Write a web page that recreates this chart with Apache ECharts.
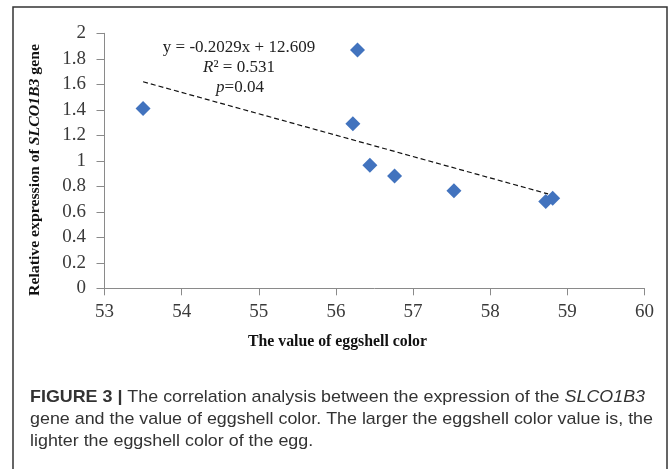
<!DOCTYPE html>
<html><head><meta charset="utf-8">
<script src="https://cdn.jsdelivr.net/npm/echarts@6/dist/echarts.min.js"></script>
<style>html,body{margin:0;padding:0;background:#fff}#c{width:672px;height:469px}</style>
</head><body><div id="c"></div>
<script>
// ---- data ----
const eggshellColor = [53.5, 56.28, 56.22, 56.44, 56.76, 57.53, 58.72, 58.81];
const relExpression = [1.41, 1.87, 1.29, 0.965, 0.88, 0.765, 0.68, 0.706];
const trendX = [53.5, 58.75];
const trendY = [1.62, 0.74];
const xTickLabels = ['53','54','55','56','57','58','59','60'];
const yTickLabels = ['0','0.2','0.4','0.6','0.8','1','1.2','1.4','1.6','1.8','2'];
const equationText = 'y = -0.2029x + 12.609';
const r2Value = '0.531';
const pValue = '0.04';
const xTitle = 'The value of eggshell color';
const yTitleParts = ['Relative expression of ', 'SLCO1B3', ' gene'];
const captionLabel = 'FIGURE 3 |';
const captionLine1 = [' The correlation analysis between the expression of the ', 'SLCO1B3'];
const captionLine2 = 'gene and the value of eggshell color. The larger the eggshell color value is, the';
const captionLine3 = 'lighter the eggshell color of the egg.';

// ---- helpers ----
const cv = document.createElement('canvas').getContext('2d');
function w(text, font){ cv.font = font; return cv.measureText(text).width; }
const SERIF = '"Liberation Serif", "Times New Roman", serif';
const SANS = '"Liberation Sans", Arial, sans-serif';

// y title scale
const yt = 15;
const ytW = w(yTitleParts[0], 'bold '+yt+'px '+SERIF) + w(yTitleParts[1], 'italic bold '+yt+'px '+SERIF) + w(yTitleParts[2], 'bold '+yt+'px '+SERIF);
const ytScale = 252 / ytW;
// x title scale
const xt = 16;
const xtW = w(xTitle, 'bold '+xt+'px '+SERIF);
const xtScale = 179 / xtW;
// caption scale
const cf = 17;
const c2W = w(captionLine2, cf+'px '+SANS);
const cScale = 623 / c2W;

const chart = echarts.init(document.getElementById('c'), null, {renderer:'canvas'});
const axisColor = '#8a8a8a';
const tickFont = 19;
const option = {
  animation:false,
  backgroundColor:'#fff',
  grid:{left:104.5, right:27.5, top:33.3, bottom:180.7, containLabel:false},
  xAxis:{
    type:'value', min:53, max:60, interval:1,
    axisLine:{show:true, lineStyle:{color:axisColor, width:1}},
    axisTick:{show:true, length:7, inside:false, lineStyle:{color:axisColor}},
    splitLine:{show:false},
    axisLabel:{margin:14, fontFamily:SERIF, fontSize:tickFont, color:'#3a3a3a',
      formatter:(v)=>xTickLabels[Math.round(v-53)]}
  },
  yAxis:{
    type:'value', min:0, max:2, interval:0.2,
    axisLine:{show:true, lineStyle:{color:axisColor, width:1}},
    axisTick:{show:true, length:8, inside:false, lineStyle:{color:axisColor}},
    splitLine:{show:false},
    axisLabel:{margin:18.5, fontFamily:SERIF, fontSize:tickFont, color:'#3a3a3a',
      formatter:(v)=>yTickLabels[Math.round(v/0.2)]}
  },
  series:[
    {type:'line', data:trendX.map((x,i)=>[x,trendY[i]]), symbol:'none', silent:true,
     lineStyle:{color:'#111', width:1.2, type:[5,3]}, z:2},
    {type:'scatter', data:eggshellColor.map((x,i)=>[x,relExpression[i]]), symbol:'diamond',
     symbolSize:[15,15], itemStyle:{color:'#4273BE', opacity:1}, z:3}
  ],
  graphic:[
    {type:'rect', shape:{x:13, y:7, width:654, height:520}, style:{fill:'none', stroke:'#333', lineWidth:1.5}, silent:true},
    {type:'text', x:239, y:48, style:{text:equationText, font:'17px '+SERIF, fill:'#222', align:'center', verticalAlign:'middle'}},
    {type:'text', x:239, y:68, style:{text:'{i|R}{n|\u00b2 = '+r2Value+'}', align:'center', verticalAlign:'middle',
      rich:{i:{fontFamily:SERIF, fontSize:17, fontStyle:'italic', fill:'#222'}, n:{fontFamily:SERIF, fontSize:17, fill:'#222'}}}},
    {type:'text', x:240, y:88, style:{text:'{i|p}{n|='+pValue+'}', align:'center', verticalAlign:'middle',
      rich:{i:{fontFamily:SERIF, fontSize:17, fontStyle:'italic', fill:'#222'}, n:{fontFamily:SERIF, fontSize:17, fill:'#222'}}}},
    {type:'text', x:337.5, y:342, scaleX:xtScale, style:{text:xTitle, font:'bold '+xt+'px '+SERIF, fill:'#111', align:'center', verticalAlign:'middle'}},
    {type:'text', x:35, y:170, rotation:Math.PI/2, scaleX:ytScale, style:{
      text:'{b|'+yTitleParts[0]+'}{bi|'+yTitleParts[1]+'}{b|'+yTitleParts[2]+'}', align:'center', verticalAlign:'middle',
      rich:{b:{fontFamily:SERIF, fontWeight:'bold', fontSize:yt, fill:'#111'},
            bi:{fontFamily:SERIF, fontWeight:'bold', fontStyle:'italic', fontSize:yt, fill:'#111'}}}},
    {type:'text', x:30, y:397, scaleX:cScale, style:{
      text:'{b|'+captionLabel+'}{n|'+captionLine1[0]+'}{i|'+captionLine1[1]+'}', align:'left', verticalAlign:'middle',
      rich:{b:{fontFamily:SANS, fontWeight:'bold', fontSize:cf, fill:'#333'},
            n:{fontFamily:SANS, fontSize:cf, fill:'#333'},
            i:{fontFamily:SANS, fontStyle:'italic', fontSize:cf, fill:'#333'}}}},
    {type:'text', x:30, y:419, scaleX:cScale, style:{text:captionLine2, font:cf+'px '+SANS, fill:'#333', align:'left', verticalAlign:'middle'}},
    {type:'text', x:30, y:441, scaleX:cScale, style:{text:captionLine3, font:cf+'px '+SANS, fill:'#333', align:'left', verticalAlign:'middle'}}
  ]
};
chart.setOption(option);
</script>
</body></html>
